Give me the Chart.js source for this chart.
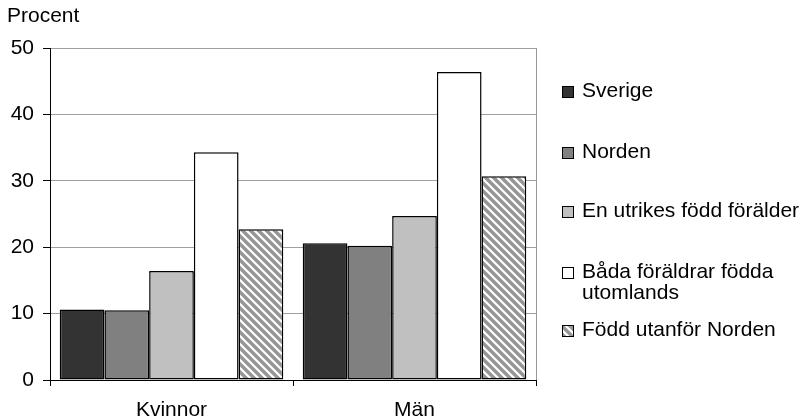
<!DOCTYPE html>
<html>
<head>
<meta charset="utf-8">
<script src="https://cdn.jsdelivr.net/npm/chart.js@4.4.1/dist/chart.umd.min.js"></script>
<style>
  html, body { margin: 0; padding: 0; background: #fff; }
  #wrap { width: 809px; height: 420px; position: relative; }
</style>
</head>
<body>
<div id="wrap"><canvas id="chart" width="809" height="420"></canvas></div>
<script>
'use strict';

var categories = ['Kvinnor', 'Män'];
var seriesNames = ['Sverige', 'Norden', 'En utrikes född förälder', 'Båda föräldrar födda utomlands', 'Född utanför Norden'];
var legendLines = [['Sverige'], ['Norden'], ['En utrikes född förälder'], ['Båda föräldrar födda', 'utomlands'], ['Född utanför Norden']];
var sverige = [10.6, 20.6];
var norden = [10.5, 20.2];
var enUtrikes = [16.4, 24.7];
var badaUtomlands = [34.3, 46.4];
var foddUtanfor = [22.7, 30.7];
var yTicks = [0, 10, 20, 30, 40, 50];

var FONT = '"Liberation Sans", Arial, sans-serif';
var FSIZE = 21;

// diagonal stripes for the last series
function stripes() {
    var c = document.createElement('canvas');
    c.width = 8; c.height = 8;
    var g = c.getContext('2d');
    g.fillStyle = '#969696';
    g.fillRect(0, 0, 8, 8);
    g.strokeStyle = '#ffffff';
    g.lineWidth = 2.2;
    g.beginPath();
    g.moveTo(-2, -2); g.lineTo(10, 10);
    g.moveTo(-10, -2); g.lineTo(2, 10);
    g.moveTo(6, -2); g.lineTo(18, 10);
    g.stroke();
    return g.createPattern(c, 'repeat');
}

var fills = ['#333333', '#808080', '#c0c0c0', '#ffffff', stripes()];
var values = [sverige, norden, enUtrikes, badaUtomlands, foddUtanfor];

var datasets = seriesNames.map(function(name, i) {
    return {
        label: name,
        data: values[i],
        backgroundColor: fills[i],
        borderColor: '#000',
        borderWidth: 1.5,
        borderSkipped: false,
        categoryPercentage: 0.92,
        barPercentage: 1.0
    };
});

// "Procent", right frame line and the legend
var extras = {
    id: 'extras',
    afterDraw: function(chart) {
        var ctx = chart.ctx, a = chart.chartArea;
        ctx.save();
        ctx.strokeStyle = '#999';
        ctx.lineWidth = 1;
        ctx.beginPath();
        ctx.moveTo(Math.round(a.right) + 0.5, a.top);
        ctx.lineTo(Math.round(a.right) + 0.5, a.bottom);
        ctx.stroke();

        ctx.fillStyle = '#000';
        ctx.font = FSIZE + 'px ' + FONT;
        ctx.textBaseline = 'middle';
        ctx.textAlign = 'left';
        ctx.fillText('Procent', 7, 16);

        var ys = [92, 153, 212, 273, 331];
        chart.data.datasets.forEach(function(ds, i) {
            var y = ys[i];
            ctx.fillStyle = ds.backgroundColor;
            ctx.fillRect(562, y - 6, 12, 12);
            ctx.strokeStyle = '#000';
            ctx.lineWidth = 1;
            ctx.strokeRect(562.5, y - 5.5, 11, 11);
            ctx.fillStyle = '#000';
            legendLines[i].forEach(function(t, k) {
                ctx.fillText(t, 582, y - 1 + k * 21);
            });
        });
        ctx.restore();
    }
};

new Chart(document.getElementById('chart'), {
    type: 'bar',
    data: { labels: categories, datasets: datasets },
    options: {
        responsive: false,
        animation: false,
        layout: { padding: { top: 48, right: 273, bottom: 0, left: 0 } },
        plugins: { legend: { display: false }, tooltip: { enabled: false } },
        scales: {
            x: {
                afterFit: function(s) { s.height = 40; },
                grid: { offset: true, drawOnChartArea: false, tickLength: 6, color: '#000' },
                border: { color: '#000', width: 1 },
                ticks: { color: '#000', padding: 12, font: { family: FONT, size: FSIZE } }
            },
            y: {
                min: 0, max: 50,
                afterFit: function(s) { s.width = 50; },
                afterBuildTicks: function(s) { s.ticks = yTicks.map(function(v) { return { value: v }; }); },
                grid: { color: '#a0a0a0', tickColor: '#000', tickLength: 7 },
                border: { color: '#000', width: 1 },
                ticks: { color: '#000', padding: 9, font: { family: FONT, size: FSIZE } }
            }
        }
    },
    plugins: [extras]
});
</script>
</body>
</html>
